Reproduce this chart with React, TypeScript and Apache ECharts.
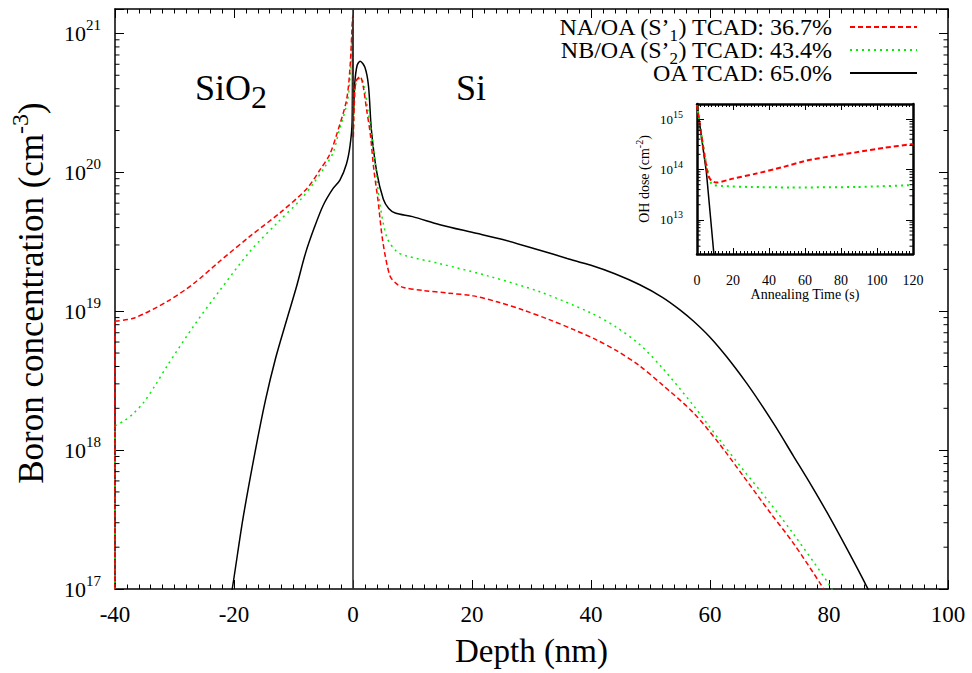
import React, { useEffect, useRef } from 'react';
import * as echarts from 'echarts';

const FONT = '"Liberation Serif", "Times New Roman", serif';

// Main plot: boron concentration (cm^-3) vs depth (nm)
const naOaProfile: [number, number][] = [
  [-40, 8.5e18], [-36.9, 8.9e18], [-31.3, 1.17e19], [-26.8, 1.58e19], [-22.4, 2.29e19],
  [-17.3, 3.47e19], [-12.3, 5.1e19], [-7.8, 7.6e19], [-5.5, 1.05e20], [-3.9, 1.35e20], [-2.7, 1.9e20],
  [-1.1, 3.3e20], [-0.5, 5.7e20], [-0.1, 1.25e21], [0.0, 1.35e21], [0.05, 1.75e20], [0.2, 3.0e20],
  [0.5, 4.5e20], [1.2, 4.9e20], [1.7, 4.2e20], [2.3, 2.8e20], [2.9, 1.9e20], [3.5, 1.05e20],
  [4.2, 6.3e19], [5.0, 3.2e19], [6.2, 1.8e19], [7.3, 1.58e19], [8.5, 1.48e19], [11.8, 1.41e19],
  [16.0, 1.35e19], [20.2, 1.29e19], [24.5, 1.16e19], [28.6, 1.02e19], [33.0, 8.7e18], [37.0, 7.4e18],
  [41.0, 6.2e18], [44.3, 5.2e18], [48.0, 4.1e18], [52.0, 2.95e18], [57.2, 1.86e18], [61.5, 1.12e18],
  [65.6, 6.5e17], [70.0, 3.6e17], [74.0, 2.14e17], [78.8, 1.05e17], [80.0, 8.5e16],
];
const nbOaProfile: [number, number][] = [
  [-40, 1.5e18], [-38.5, 1.62e18], [-37.0, 1.82e18], [-35.2, 2.2e18], [-33.3, 2.9e18], [-31.3, 4.0e18],
  [-26.8, 7.8e18], [-22.4, 1.41e19], [-17.3, 2.7e19], [-12.8, 4.3e19], [-8.9, 6.3e19], [-6.5, 8.5e19],
  [-4.7, 1.1e20], [-3.3, 1.4e20], [-2.4, 1.95e20], [-0.9, 3.3e20], [-0.4, 5.7e20], [-0.1, 1.2e21],
  [0.0, 1.3e21], [0.05, 1.9e20], [0.2, 3.0e20], [0.5, 4.4e20], [1.3, 4.8e20], [1.9, 4.1e20],
  [2.5, 2.8e20], [3.1, 1.95e20], [3.8, 1.1e20], [4.5, 6.0e19], [5.7, 3.4e19], [7.3, 2.7e19],
  [9.0, 2.5e19], [14.6, 2.2e19], [23.0, 1.78e19], [31.4, 1.38e19], [39.8, 9.8e18], [44.0, 7.8e18],
  [48.2, 5.75e18], [52.0, 3.9e18], [57.2, 2.1e18], [61.5, 1.2e18], [65.6, 7.2e17], [70.0, 4.2e17],
  [74.0, 2.5e17], [80.2, 1.05e17], [81.0, 8.8e16],
];
const oaProfile: [number, number][] = [
  [-21.0, 7e16], [-20.3, 1e17], [-18.5, 3.2e17], [-16.4, 1.0e18], [-14.7, 2.3e18], [-13.0, 4.6e18],
  [-11.2, 8.5e18], [-9.5, 1.5e19], [-8.0, 2.6e19], [-6.5, 4.0e19], [-5.0, 5.8e19], [-3.4, 7.6e19],
  [-2.2, 8.8e19], [-1.1, 1.15e20], [-0.5, 1.55e20], [-0.15, 2.3e20], [-0.05, 1.15e21], [0.02, 1.15e21],
  [0.08, 2.6e20], [0.3, 4.4e20], [0.7, 5.9e20], [1.2, 6.3e20], [2.0, 5.7e20], [2.6, 4.2e20],
  [3.1, 2.0e20], [4.0, 1.0e20], [5.1, 6.4e19], [6.0, 5.5e19], [7.1, 5.1e19], [10.0, 4.8e19],
  [14.6, 4.2e19], [20.0, 3.7e19], [25.0, 3.3e19], [31.4, 2.75e19], [36.0, 2.4e19], [40.0, 2.14e19],
  [44.0, 1.86e19], [48.2, 1.55e19], [52.0, 1.26e19], [55.0, 1.02e19], [57.2, 8.5e18], [60.0, 6.5e18],
  [62.8, 4.7e18], [66.0, 3.1e18], [68.4, 2.2e18], [71.0, 1.48e18], [74.0, 9.1e17], [77.0, 5.6e17],
  [79.6, 3.6e17], [83.0, 1.95e17], [86.3, 1.05e17], [87.0, 9e16],
];

// Inset: OH dose (cm^-2) vs annealing time (s)
const naOaDose: [number, number][] = [
  [0, 1.9e15], [3.3, 3.0e14], [6.1, 7.8e13], [8.0, 6.0e13], [10.8, 5.5e13], [20, 6.6e13], [33, 8.3e13],
  [47, 1.1e14], [60.8, 1.5e14], [75, 1.85e14], [88.6, 2.2e14], [104, 2.7e14], [120, 3.2e14],
];
const nbOaDose: [number, number][] = [
  [0, 1.9e15], [4.3, 1.9e14], [8.0, 5.2e13], [14.4, 4.7e13], [30, 4.5e13], [51.5, 4.4e13],
  [88.6, 4.5e13], [120, 4.9e13],
];
const oaDose: [number, number][] = [[0, 1.9e15], [5.2, 9e13], [10, 1.2e12]];

const seriesNames = ['NA/OA', 'NB/OA', 'OA'];
const legendLabels: Record<string, string> = {
  'NA/OA': '{a|NA/OA (S’}{s|1}{a|) TCAD: 36.7%}',
  'NB/OA': '{a|NB/OA (S’}{s|2}{a|) TCAD: 43.4%}',
  OA: '{a|OA TCAD: 65.0%}',
};

// Axis ranges and log minor tick multipliers
const depthRange = [-40, 100];
const concRange = [1e17, 1.5e21];
const timeRange = [0, 120];
const doseRange = [2.1e12, 2e15];
const minorMultipliers = [2, 3, 4, 5, 6, 7, 8, 9];
const mainDecades = [1e17, 1e18, 1e19, 1e20];
const insetDecades = [1e12, 1e13, 1e14, 1e15];

function buildMinor(decades: number[], range: number[]) {
  const out: number[] = [];
  decades.forEach((d) => minorMultipliers.forEach((m) => {
    const v = d * m;
    if (v > range[0] && v < range[1]) out.push(v);
  }));
  return out;
}

function powLabel(v: number) {
  const l = Math.log10(v);
  const e = Math.round(l);
  if (Math.abs(l - e) > 1e-6) return '';
  return `{b|10}{s|${e}}`;
}

// superscript / subscript rich styles: token height h plus padding keeps line height L
function sup(fontSize: number, L: number, raise: number) {
  const h = L - 2 * raise;
  return { fontFamily: FONT, color: '#000', fill: '#000', fontSize, height: h, padding: [0, 0, L - h, 0] };
}
function sub(fontSize: number, L: number, drop: number) {
  const h = L - 2 * drop;
  return { fontFamily: FONT, color: '#000', fill: '#000', fontSize, height: h, padding: [L - h, 0, 0, 0] };
}

function minorTickSeries(xi: number, yi: number, values: number[], x0: number, len: number) {
  return {
    type: 'custom',
    name: 'minor' + xi,
    xAxisIndex: xi,
    yAxisIndex: yi,
    silent: true,
    clip: false,
    z: 6,
    data: values.map((v) => [x0, v]),
    encode: { x: 0, y: 1 },
    renderItem: (params: any, api: any) => {
      const p = api.coord([api.value(0), api.value(1)]);
      const cs = params.coordSys;
      return {
        type: 'group',
        children: [
          { type: 'line', shape: { x1: cs.x, y1: p[1], x2: cs.x + len, y2: p[1] }, style: { stroke: '#000', lineWidth: 1 } },
          { type: 'line', shape: { x1: cs.x + cs.width - len, y1: p[1], x2: cs.x + cs.width, y2: p[1] }, style: { stroke: '#000', lineWidth: 1 } },
        ],
      };
    },
  };
}

export default function App() {
  const ref = useRef<HTMLDivElement>(null);
  useEffect(() => {
    if (!ref.current) return;
    const chart = echarts.init(ref.current, null, { renderer: 'svg' });
    const lbl = { fontFamily: FONT, color: '#000' };
    const numLabel = (v: number) => `{n|${v}}`;
    const mainX = (pos: string, show: boolean) => ({
      type: 'value', gridIndex: 0, position: pos, min: depthRange[0], max: depthRange[1], interval: 20,
      axisLine: { show: true, onZero: false, lineStyle: { color: '#000', width: 1.5 } },
      axisTick: { show: true, inside: true, length: 9, lineStyle: { color: '#000', width: 1 } },
      minorTick: { show: true, splitNumber: 10, length: 4.5, lineStyle: { color: '#000', width: 1 } },
      splitLine: { show: false },
      axisLabel: { show, ...lbl, fontSize: 23, margin: 14, formatter: numLabel, rich: { n: { ...lbl, fontSize: 23 } } },
      ...(show ? { name: 'Depth (nm)', nameLocation: 'middle', nameGap: 45, nameTextStyle: { ...lbl, fontSize: 33 } } : {}),
    });
    const mainY = (pos: string, show: boolean) => ({
      type: 'log', gridIndex: 0, position: pos, min: concRange[0], max: concRange[1], logBase: 10,
      axisLine: { show: true, onZero: false, lineStyle: { color: '#000', width: 1.5 } },
      axisTick: { show: true, inside: true, length: 9, lineStyle: { color: '#000', width: 1 } },
      splitLine: { show: false },
      axisLabel: {
        show, margin: 14, formatter: powLabel, ...lbl, fontSize: 22,
        rich: { b: { ...lbl, fontSize: 22, height: 22 }, s: sup(15, 22, 8) },
      },
      ...(show ? {
        name: '{a|Boron concentration (cm}{s|-3}{a|)}', nameLocation: 'middle', nameGap: 66, nameRotate: 90,
        nameTextStyle: { ...lbl, fontSize: 35, padding: [0, 0, 0, 12], rich: { a: { ...lbl, fontSize: 35, height: 35 }, s: sup(24, 35, 12) } },
      } : {}),
    });
    const insetX = (pos: string, show: boolean) => ({
      type: 'value', gridIndex: 1, position: pos, min: timeRange[0], max: timeRange[1], interval: 20,
      axisLine: { show: true, onZero: false, lineStyle: { color: '#000', width: 2.5 } },
      axisTick: { show: true, inside: true, length: 6, lineStyle: { color: '#000', width: 1 } },
      minorTick: { show: true, splitNumber: 10, length: 3, lineStyle: { color: '#000', width: 1 } },
      splitLine: { show: false },
      axisLabel: { show, ...lbl, fontSize: 14, margin: 19, formatter: numLabel, rich: { n: { ...lbl, fontSize: 14 } } },
      ...(show ? { name: 'Annealing Time (s)', nameLocation: 'middle', nameGap: 30, nameTextStyle: { ...lbl, fontSize: 14 } } : {}),
    });
    const insetY = (pos: string, show: boolean) => ({
      type: 'log', gridIndex: 1, position: pos, min: doseRange[0], max: doseRange[1], logBase: 10,
      axisLine: { show: true, onZero: false, lineStyle: { color: '#000', width: 2.5 } },
      axisTick: { show: true, inside: true, length: 7, lineStyle: { color: '#000', width: 1 } },
      splitLine: { show: false },
      axisLabel: {
        show, margin: 14, formatter: powLabel, ...lbl, fontSize: 13,
        rich: { b: { ...lbl, fontSize: 13, height: 13 }, s: sup(10, 13, 5) },
      },
      ...(show ? {
        name: '{a|OH dose (cm}{s|-2}{a|)}', nameLocation: 'middle', nameGap: 46, nameRotate: 90,
        nameTextStyle: { ...lbl, fontSize: 14, rich: { a: { ...lbl, fontSize: 14, height: 14 }, s: sup(10, 14, 5) } },
      } : {}),
    });

    const lineStyles = [
      { color: '#ff0000', width: 1.5, type: [5, 3] },
      { color: '#00ee00', width: 1.5, type: [2, 4] },
      { color: '#000000', width: 1.5, type: 'solid' },
    ];
    const profiles = [naOaProfile, nbOaProfile, oaProfile];
    const doses = [naOaDose, nbOaDose, oaDose];

    const series: any[] = [];
    profiles.forEach((d, i) => {
      series.push({
        type: 'line', name: seriesNames[i], xAxisIndex: 0, yAxisIndex: 0, data: d,
        symbol: 'none', showSymbol: false, smooth: 0.3, z: 3 - i,
        lineStyle: lineStyles[i], itemStyle: { color: lineStyles[i].color },
        ...(i === 2 ? {
          markLine: {
            silent: true, symbol: 'none', label: { show: false },
            lineStyle: { color: '#333', width: 1.6, type: 'solid' },
            data: [{ xAxis: 0 }],
          },
        } : {}),
      });
      if (i < 2) {
        // profile continues down the left boundary of the plotted depth range
        series.push({
          type: 'line', name: seriesNames[i] + ' edge', xAxisIndex: 0, yAxisIndex: 0,
          data: [[depthRange[0], concRange[0]], d[0]], symbol: 'none', showSymbol: false,
          z: 3 - i, lineStyle: lineStyles[i], silent: true,
        });
      }
    });
    doses.forEach((d, i) => {
      series.push({
        type: 'line', name: seriesNames[i], xAxisIndex: 2, yAxisIndex: 2, data: d,
        symbol: 'none', showSymbol: false, smooth: i === 2 ? false : 0.2, z: 3 - i,
        lineStyle: { ...lineStyles[i], width: i === 2 ? 1.5 : 2 }, itemStyle: { color: lineStyles[i].color },
      });
    });
    series.push(minorTickSeries(0, 0, buildMinor(mainDecades, concRange), depthRange[0], 4.5));
    series.push(minorTickSeries(2, 2, buildMinor(insetDecades, doseRange), timeRange[0], 3.5));

    chart.setOption({
      animation: false,
      backgroundColor: '#fff',
      textStyle: { fontFamily: FONT, color: '#000' },
      grid: [
        { left: 115, top: 9, width: 833, height: 580, outerBoundsMode: 'none', containLabel: false },
        { left: 697, top: 104, width: 216, height: 150, show: true, backgroundColor: '#fff', borderWidth: 0, outerBoundsMode: 'none', containLabel: false },
      ],
      xAxis: [mainX('bottom', true), mainX('top', false), insetX('bottom', true), insetX('top', false)],
      yAxis: [mainY('left', true), mainY('right', false), insetY('left', true), insetY('right', false)],
      legend: {
        data: seriesNames, orient: 'vertical', align: 'right', right: 54, top: 15, padding: 0, itemGap: -5.5,
        itemWidth: 67, itemHeight: 30, selectedMode: false,
        itemStyle: { color: 'rgba(0,0,0,0)', borderWidth: 0, opacity: 0 },
        formatter: (n: string) => legendLabels[n],
        textStyle: {
          ...lbl, fontSize: 24, lineHeight: 24, padding: [0, 13, 0, 0],
          rich: { a: { ...lbl, fontSize: 24, height: 24 }, s: sub(17, 24, 8) },
        },
      },
      graphic: [
        {
          type: 'text', x: 195, y: 88, z: 10,
          style: {
            text: '{a|SiO}{s|2}', verticalAlign: 'middle', fill: '#000', fontFamily: FONT, fontSize: 36,
            rich: { a: { fontFamily: FONT, fontSize: 36, fill: '#000', height: 36 }, s: sub(32, 36, 9) },
          },
        },
        {
          type: 'text', x: 456, y: 88, z: 10,
          style: { text: 'Si', fontFamily: FONT, fontSize: 36, fill: '#000', verticalAlign: 'middle' },
        },
      ],
      series,
    });
    return () => chart.dispose();
  }, []);
  return <div ref={ref} style={{ width: 972, height: 673, position: 'absolute', left: 0, top: 0 }} />;
}
